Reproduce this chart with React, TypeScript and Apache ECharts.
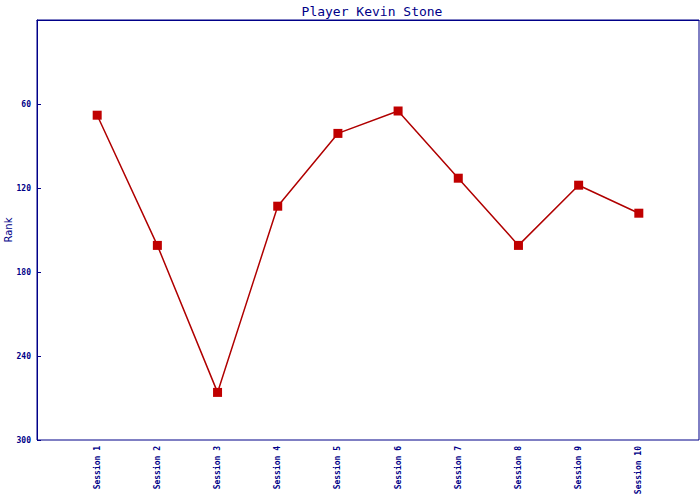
import React, { useEffect, useRef } from "react";
import * as echarts from "echarts";

const sessions = ["Session 1", "Session 2", "Session 3", "Session 4", "Session 5", "Session 6", "Session 7", "Session 8", "Session 9", "Session 10"];
const ranks = [68, 161, 266, 133, 81, 65, 113, 161, 118, 138];
const yTicks = [60, 120, 180, 240, 300];

const NAVY = "#000088";

export default function App() {
  const ref = useRef<HTMLDivElement>(null);
  useEffect(() => {
    if (!ref.current) return;
    const chart = echarts.init(ref.current, null, { renderer: "svg" });
    chart.setOption({
      animation: false,
      backgroundColor: "#ffffff",
      title: {
        text: "Player Kevin Stone",
        left: 367,
        top: 0,
        textAlign: "center",
        textStyle: { fontFamily: "DejaVu Sans Mono", fontSize: 13, fontWeight: "normal", color: NAVY },
      },
      grid: {
        left: 37, right: 1, top: 20, bottom: 60,
        containLabel: false,
        outerBoundsMode: "none",
        show: true, borderColor: NAVY, borderWidth: 1, backgroundColor: "transparent",
      },
      xAxis: {
        type: "value",
        min: 0,
        max: sessions.length + 1,
        interval: 1,
        splitLine: { show: false },
        axisLine: { show: true, lineStyle: { color: NAVY, width: 1 } },
        axisTick: { show: false },
        axisLabel: {
          rotate: 90,
          margin: 6,
          fontFamily: "DejaVu Sans Mono",
          fontSize: 8,
          fontWeight: "bold",
          color: NAVY,
          showMinLabel: true,
          showMaxLabel: true,
          formatter: (v: number) => (v >= 1 && v <= sessions.length ? sessions[v - 1] : ""),
        },
      },
      yAxis: {
        type: "value",
        inverse: true,
        min: 0,
        max: 300,
        interval: 60,
        name: "Rank",
        nameLocation: "middle",
        nameGap: 24,
        nameMoveOverlap: false,
        nameTextStyle: { fontFamily: "DejaVu Sans", fontSize: 10, color: NAVY },
        splitLine: { show: false },
        axisLine: { show: true, lineStyle: { color: NAVY, width: 1 } },
        axisTick: { show: true, inside: true, length: 4, lineStyle: { color: NAVY } },
        axisLabel: {
          margin: 6,
          fontFamily: "DejaVu Sans Mono",
          fontSize: 8,
          fontWeight: "bold",
          color: NAVY,
          formatter: (v: number) => (yTicks.includes(v) ? String(v) : ""),
        },
      },
      series: [
        {
          type: "line",
          data: ranks.map((r, i) => [i + 1, r]),
          symbol: "rect",
          symbolSize: 9,
          itemStyle: { color: "#C00000" },
          lineStyle: { color: "#B00000", width: 1.5 },
        },
      ],
    });
    return () => chart.dispose();
  }, []);
  return <div ref={ref} style={{ width: 700, height: 500, position: "absolute", left: 0, top: 0 }} />;
}
